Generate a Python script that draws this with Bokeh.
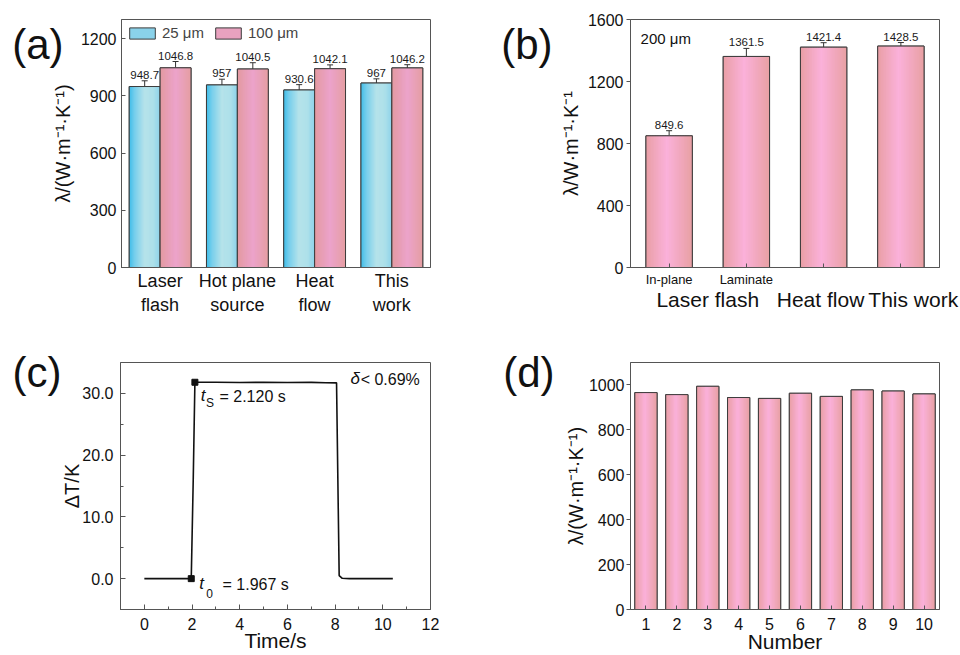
import numpy as np
from bokeh.plotting import figure
from bokeh.layouts import row, column
from bokeh.models import (FixedTicker, Label, Legend, LegendItem, Whisker, ColumnDataSource,
                          TeeHead, LinearAxis, Range1d, NumeralTickFormatter)
from bokeh.embed import file_html
from bokeh.resources import INLINE
from bokeh.core.properties import value

FONT = "Liberation Sans"

# ---------------- data ----------------
# (a)
methods_a = ["Laser\nflash", "Hot plane\nsource", "Heat\nflow", "This\nwork"]
k_25um = [948.7, 957.0, 930.6, 967.0]
err_25um = [30, 30, 28, 22]
k_100um = [1046.8, 1040.5, 1042.1, 1046.2]
err_100um = [33, 33, 20, 17]
yticks_a = [0, 300, 600, 900, 1200]

# (b)
sub_labels_b = ["In-plane", "Laminate", "", ""]
group_labels_b = ["Laser flash", "Heat flow", "This work"]
k_200um = [849.6, 1361.5, 1421.4, 1428.5]
err_200um = [33, 52, 29, 23]
yticks_b = [0, 400, 800, 1200, 1600]

# (c)
time_s = [0.0, 0.5, 1.0, 1.5, 1.967, 2.05, 2.12, 3.0, 4.0, 5.0, 6.0, 7.0, 7.6, 8.06, 8.17, 8.3, 8.6, 9.5, 10.42]
delta_T = [0.0, 0.0, 0.0, 0.0, 0.0, 16.0, 31.8, 31.8, 31.75, 31.8, 31.75, 31.78, 31.72, 31.7, 0.5, 0.05, 0.0, 0.0, 0.0]
t0_point = (1.967, 0.0)
ts_point = (2.120, 31.8)
xticks_c = [0, 2, 4, 6, 8, 10, 12]
yticks_c = [0, 10, 20, 30]

# (d)
sample_no = [1, 2, 3, 4, 5, 6, 7, 8, 9, 10]
k_samples = [966, 957, 994, 944, 940, 963, 949, 978, 973, 960]
yticks_d = [0, 200, 400, 600, 800, 1000]

# ---------------- styles ----------------
BLUE_STOPS = [(0.0, "#3fbde9"), (0.18, "#78cfec"), (0.5, "#b6e3ea"), (0.78, "#ade0ea"), (1.0, "#8dd3ea")]
PINK_A_STOPS = [(0.0, "#e39aa0"), (0.5, "#eca3cb"), (1.0, "#e59ea2")]
PINK_STOPS = [(0.0, "#e99fa5"), (0.45, "#fbb1da"), (1.0, "#e8a0a3")]
EDGE = "#3c3c3c"
AXIS = "#555555"


def hex2rgb(h):
    h = h.lstrip("#")
    return np.array([int(h[i:i + 2], 16) for i in (0, 2, 4)], dtype=float)


def grad_color(stops, t):
    for (p0, c0), (p1, c1) in zip(stops[:-1], stops[1:]):
        if p0 <= t <= p1:
            f = (t - p0) / (p1 - p0)
            c = hex2rgb(c0) * (1 - f) + hex2rgb(c1) * f
            return "#%02x%02x%02x" % tuple(int(round(v)) for v in c)
    return stops[-1][1]


def gradient_bars(p, xs, tops, width, stops, n=28, solid="#cccccc"):
    # solid base bar (also used as legend swatch), covered by gradient strips
    base = p.vbar(x=xs, top=tops, width=width, fill_color=solid, line_color=EDGE, line_width=1)
    L, R, T, C = [], [], [], []
    step = width / n
    for x, top in zip(xs, tops):
        for j in range(n):
            x0 = x - width / 2 + j * step
            L.append(x0)
            R.append(min(x0 + step * 1.6, x + width / 2))
            T.append(top)
            C.append(grad_color(stops, (j + 0.5) / n))
    p.quad(left=L, right=R, bottom=0, top=T, fill_color=C, line_color=None)
    p.vbar(x=xs, top=tops, width=width, fill_color=None, line_color=EDGE, line_width=1)
    return base


def add_errors(p, xs, vals, errs):
    src = ColumnDataSource(dict(x=xs, upper=[v + e for v, e in zip(vals, errs)],
                                lower=[v - e for v, e in zip(vals, errs)]))
    w = Whisker(base="x", upper="upper", lower="lower", source=src, line_color="#333333", line_width=1,
                upper_head=TeeHead(size=6, line_color="#333333", line_width=1),
                lower_head=TeeHead(size=6, line_color="#333333", line_width=1))
    p.add_layout(w)


def value_labels(p, xs, vals, errs, size="11.5px"):
    p.text(x=xs, y=[v + e for v, e in zip(vals, errs)], text=[f"{v:g}" for v in vals],
           text_align="center", text_baseline="bottom", y_offset=-2,
           text_font=value(FONT), text_font_size=size, text_color="#1a1a1a")


def base_fig(w, h, xr, yr, bl, br, bt, bb):
    p = figure(width=w, height=h, x_range=xr, y_range=yr, output_backend="svg",
               toolbar_location=None, min_border_left=bl, min_border_right=br,
               min_border_top=bt, min_border_bottom=bb)
    p.xgrid.visible = False
    p.ygrid.visible = False
    p.outline_line_color = AXIS
    p.outline_line_width = 1
    p.background_fill_color = "white"
    p.border_fill_color = "white"
    for ax in (p.xaxis[0], p.yaxis[0]):
        ax.axis_line_color = AXIS
        ax.major_tick_line_color = AXIS
        ax.minor_tick_line_color = AXIS
        ax.major_label_text_font = FONT
        ax.major_label_text_color = "#111111"
        ax.major_label_text_font_size = "16px"
        ax.axis_label_text_font = FONT
        ax.axis_label_text_font_style = "normal"
        ax.axis_label_text_color = "#111111"
        ax.axis_label_text_font_size = "20px"
    return p


def panel_letter(p, y, txt, standoff):
    # extra tick-label-only axis on the left (side panels are not clipped to the frame)
    ax = LinearAxis(ticker=FixedTicker(ticks=[y]), major_label_overrides={y: txt},
                    axis_line_color=None, major_tick_line_color=None, minor_tick_line_color=None,
                    major_tick_in=0, major_tick_out=0,
                    major_label_text_font=FONT, major_label_text_font_size="42px",
                    major_label_text_color="#111111", major_label_standoff=standoff)
    p.add_layout(ax, "left")


# ---------------- (a) ----------------
pa = base_fig(480, 327, Range1d(0.5, 4.5), Range1d(0, 1300), 121, 50, 18, 60)
idx_a = np.arange(1, len(methods_a) + 1)
x25 = list(idx_a - 0.2)
x100 = list(idx_a + 0.2)
leg_b = gradient_bars(pa, x25, k_25um, 0.4, BLUE_STOPS, solid="#8ad2ea")
leg_p = gradient_bars(pa, x100, k_100um, 0.4, PINK_A_STOPS, solid="#e9a2bf")
add_errors(pa, x25, k_25um, err_25um)
add_errors(pa, x100, k_100um, err_100um)
value_labels(pa, x25, k_25um, err_25um)
value_labels(pa, x100, k_100um, err_100um)
pa.xaxis.ticker = FixedTicker(ticks=list(idx_a))
pa.xaxis.major_label_overrides = {int(i): m for i, m in zip(idx_a, methods_a)}
pa.xaxis.major_tick_line_color = None
pa.xaxis.minor_tick_line_color = None
pa.xaxis.major_label_text_font_size = "18px"
pa.xaxis.major_label_standoff = -3
pa.yaxis.ticker = FixedTicker(ticks=yticks_a)
pa.yaxis.major_tick_in = 4
pa.yaxis.major_tick_out = 0
pa.yaxis.major_label_standoff = 5
pa.yaxis.axis_label = "λ/(W·m⁻¹·K⁻¹)"
pa.yaxis.axis_label_standoff = 4
legend = Legend(items=[LegendItem(label="25 μm", renderers=[leg_b]),
                       LegendItem(label="100 μm", renderers=[leg_p])],
                location="top_left", orientation="horizontal", glyph_width=32, glyph_height=14,
                label_text_font=FONT, label_text_font_size="15px", label_standoff=4, spacing=8,
                margin=5, padding=6, border_line_color=None, background_fill_alpha=0,
                label_height=14)
pa.add_layout(legend)
panel_letter(pa, 1169, "(a)", -15)

# ---------------- (b) ----------------
pb = base_fig(480, 327, Range1d(0.5, 4.5), Range1d(0, 1600), 150, 21, 19, 60)
idx_b = list(range(1, len(k_200um) + 1))
gradient_bars(pb, idx_b, k_200um, 0.6, PINK_STOPS, solid="#f2a8c4")
add_errors(pb, idx_b, k_200um, err_200um)
value_labels(pb, idx_b, k_200um, err_200um)
pb.xaxis.ticker = FixedTicker(ticks=idx_b)
pb.xaxis.major_label_overrides = {i: s for i, s in zip(idx_b, sub_labels_b)}
pb.xaxis.major_tick_in = 4
pb.xaxis.major_tick_out = 0
pb.xaxis.major_label_text_font_size = "13px"
pb.xaxis.major_label_standoff = 4
group_pos = [1.5, 2.96, 4.16]
ax2 = LinearAxis(ticker=FixedTicker(ticks=group_pos),
                 major_label_overrides={g: s for g, s in zip(group_pos, group_labels_b)},
                 axis_line_color=None, major_tick_line_color=None, minor_tick_line_color=None,
                 major_tick_in=0, major_tick_out=0,
                 major_label_text_font=FONT, major_label_text_font_size="21px",
                 major_label_text_color="#111111", major_label_standoff=-2)
pb.add_layout(ax2, "below")
pb.yaxis.ticker = FixedTicker(ticks=yticks_b)
pb.yaxis.major_tick_in = 0
pb.yaxis.major_tick_out = 4
pb.yaxis.major_label_standoff = 3
pb.yaxis.axis_label = "λ/W·m⁻¹·K⁻¹"
pb.yaxis.axis_label_standoff = 3
pb.add_layout(Label(x=0.63, y=1477, text="200 μm", text_font=FONT, text_font_size="15px",
                    text_baseline="alphabetic", text_color="#111111"))
panel_letter(pb, 1439, "(b)", 4)

# ---------------- (c) ----------------
pc = base_fig(480, 328, Range1d(-1, 12), Range1d(-5, 35), 120, 50, 35, 45)
pc.line(time_s, delta_T, line_color="#111111", line_width=1.6)
pc.scatter([t0_point[0], ts_point[0]], [t0_point[1], ts_point[1]], marker="square", size=6,
           fill_color="#111111", line_color="#111111")
pc.xaxis.ticker = FixedTicker(ticks=xticks_c, minor_ticks=[1, 3, 5, 7, 9, 11])
pc.yaxis.ticker = FixedTicker(ticks=yticks_c, minor_ticks=[-5, 5, 15, 25])
pc.yaxis.formatter = NumeralTickFormatter(format="0.0")
for ax in (pc.xaxis[0], pc.yaxis[0]):
    ax.major_tick_in = 5
    ax.major_tick_out = 0
    ax.minor_tick_in = 3
    ax.minor_tick_out = 0
pc.xaxis.major_label_standoff = 8
pc.yaxis.major_label_standoff = 7
pc.xaxis.axis_label = "Time/s"
pc.xaxis.axis_label_text_font_size = "21px"
pc.xaxis.axis_label_standoff = -4
pc.yaxis.axis_label = "ΔT/K"
pc.yaxis.axis_label_standoff = -4


def italic_sub(p, x, y, main, sub, rest, sub_dx, sub_dy, rest_dx):
    p.add_layout(Label(x=x, y=y, text=main, text_font=FONT, text_font_size="17px",
                       text_font_style="italic", text_color="#111111"))
    if sub:
        p.add_layout(Label(x=x + sub_dx, y=y + sub_dy, text=sub, text_font=FONT, text_font_size="12px",
                           text_color="#111111"))
    p.add_layout(Label(x=x + rest_dx, y=y, text=rest, text_font=FONT, text_font_size="16px",
                       text_color="#111111"))


italic_sub(pc, 2.30, -2.26, "t", "0", "= 1.967 s", 0.30, -0.95, 0.98)
italic_sub(pc, 2.37, 28.1, "t", "S", "= 2.120 s", 0.22, -0.85, 0.78)
italic_sub(pc, 8.65, 30.8, "δ", "", "< 0.69%", 0, 0, 0.42)
panel_letter(pc, 33.4, "(c)", -3)

# ---------------- (d) ----------------
pd_ = base_fig(480, 328, Range1d(0.5, 10.5), Range1d(0, 1100), 150, 21, 35, 44)
gradient_bars(pd_, sample_no, k_samples, 0.72, PINK_STOPS, n=16, solid="#f2a8c4")
pd_.xaxis.ticker = FixedTicker(ticks=sample_no)
pd_.xaxis.major_tick_in = 4
pd_.xaxis.major_tick_out = 0
pd_.xaxis.major_label_standoff = 8
pd_.xaxis.axis_label = "Number"
pd_.xaxis.axis_label_text_font_size = "21px"
pd_.xaxis.axis_label_standoff = -3
pd_.yaxis.ticker = FixedTicker(ticks=yticks_d)
pd_.yaxis.major_tick_in = 0
pd_.yaxis.major_tick_out = 4
pd_.yaxis.major_label_standoff = 2
pd_.yaxis.axis_label = "λ/(W·m⁻¹·K⁻¹)"
pd_.yaxis.axis_label_standoff = -1
panel_letter(pd_, 1056, "(d)", 7)

layout = column(row(pa, pb), row(pc, pd_))
open("out.html", "w").write(file_html(layout, INLINE))
